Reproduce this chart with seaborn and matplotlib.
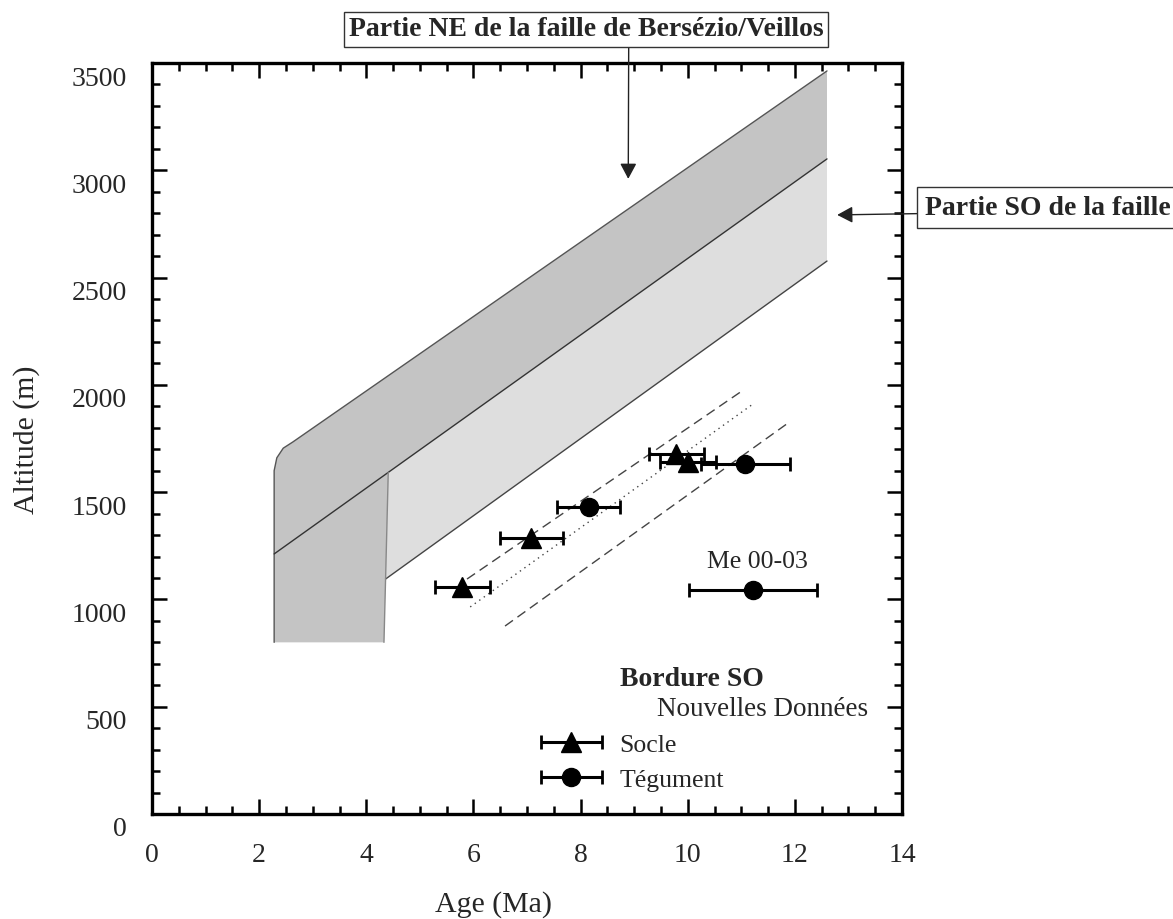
import numpy as np
import matplotlib
matplotlib.use("Agg")
import matplotlib.pyplot as plt
import seaborn as sns
from matplotlib.transforms import ScaledTranslation
from matplotlib.legend_handler import HandlerErrorbar
from matplotlib.ticker import MultipleLocator

# ---------------- data ----------------
socle_age = [5.79, 7.08, 9.79, 10.00]
socle_alt = [1060, 1285, 1678, 1642]
socle_err = [0.51, 0.59, 0.51, 0.52]

tegu_age = [8.15, 11.07, 11.22]
tegu_alt = [1429, 1631, 1045]
tegu_err = [0.59, 0.83, 1.19]

me_label = "Me 00-03"

# regression line and envelope
fit_age = [5.94, 11.22]
fit_alt = [965, 1911]
upper_age = [5.88, 11.01]
upper_alt = [1095, 1971]
lower_age = [6.59, 11.85]
lower_alt = [876, 1818]

# fault bands (Age, Altitude)
band_outer_x = [2.28, 2.28, 2.33, 2.45, 2.63, 12.6]
band_outer_y = [800, 1600, 1660, 1705, 1734, 3463]
band_mid_x = [2.28, 4.41, 12.6]
band_mid_y = [1212, 1591, 3053]
band_low_x = [4.36, 12.6]
band_low_y = [1095, 2577]
strip_edge_x = [4.41, 4.36, 4.33]
strip_edge_y = [1591, 1095, 800]

ne_arrow = (8.89, 2960)
so_arrow = (12.79, 2792)
title_ne = "Partie NE de la faille de Bersézio/Veillos"
title_so = "Partie SO de la faille"

x_ticks = [0, 2, 4, 6, 8, 10, 12, 14]
y_ticks = [0, 500, 1000, 1500, 2000, 2500, 3000, 3500]

# ---------------- style ----------------
sns.set_style("ticks")
plt.rcParams['font.family'] = ['Liberation Serif', 'DejaVu Serif']

fig = plt.figure(figsize=(11.73, 9.2), dpi=100)
ax = fig.add_axes([152/1173, 105/920, 750/1173, 751/920])

dark = '#c4c4c4'
light = '#dedede'

# dark band polygon: outer edge, top line, down right side, mid line back, strip
dx = band_outer_x + [band_mid_x[2], band_mid_x[1]] + [strip_edge_x[2]]
dy = band_outer_y + [band_mid_y[2], band_mid_y[1]] + [strip_edge_y[2]]
ax.fill(dx, dy, color=dark, lw=0, zorder=1)
# light band polygon
lx = [band_mid_x[1], band_mid_x[2], band_low_x[1], band_low_x[0]]
ly = [band_mid_y[1], band_mid_y[2], band_low_y[1], band_low_y[0]]
ax.fill(lx, ly, color=light, lw=0, zorder=1)

ax.plot(band_outer_x, band_outer_y, color='#555555', lw=1.0, zorder=2)
ax.plot(band_mid_x[::2], band_mid_y[::2], color='#333333', lw=1.0, zorder=2)
ax.plot(band_low_x, band_low_y, color='#444444', lw=1.0, zorder=2)
ax.plot(strip_edge_x, strip_edge_y, color='#888888', lw=1.0, zorder=2)

# regression lines via seaborn
sns.lineplot(x=upper_age, y=upper_alt, ax=ax, color='#444444', lw=1.0,
             linestyle=(0, (7, 4)), zorder=3)
sns.lineplot(x=lower_age, y=lower_alt, ax=ax, color='#444444', lw=1.0,
             linestyle=(0, (7, 4)), zorder=3)
sns.lineplot(x=fit_age, y=fit_alt, ax=ax, color='#444444', lw=1.0,
             linestyle=(0, (1, 3)), zorder=3)

# data points
eb_s = ax.errorbar(socle_age, socle_alt, xerr=socle_err, fmt='^', color='black',
                   ms=15, elinewidth=2.2, capsize=5, capthick=2.0, zorder=5)
eb_t = ax.errorbar(tegu_age, tegu_alt, xerr=tegu_err, fmt='o', color='black',
                   ms=13, elinewidth=2.2, capsize=5, capthick=2.0, zorder=5)

ax.annotate(me_label, xy=(tegu_age[2], tegu_alt[2]), xytext=(3, 21),
            textcoords='offset points', ha='center', va='center', fontsize=18.5)

# axes
ax.set_xlim(0, 14)
ax.set_ylim(0, 3500)
ax.set_xticks(x_ticks)
ax.set_yticks(y_ticks)
ax.xaxis.set_minor_locator(MultipleLocator(0.5))
ax.yaxis.set_minor_locator(MultipleLocator(100))
ax.tick_params(which='both', direction='in', top=True, right=True, color='black')
ax.tick_params(which='major', length=11, width=1.8, labelsize=20)
ax.tick_params(which='minor', length=5.5, width=1.8)
ax.tick_params(axis='y', pad=18)
ax.tick_params(axis='x', pad=20)
for s in ax.spines.values():
    s.set_linewidth(2.4)
    s.set_color('black')
for lab in ax.get_yticklabels():
    lab.set_transform(lab.get_transform() + ScaledTranslation(0, -0.12, fig.dpi_scale_trans))

ax.set_xlabel("Age (Ma)", fontsize=21.5)
ax.set_ylabel("Altitude (m)", fontsize=21.5)
ax.xaxis.set_label_coords((493-152)/750, (815-891)/751)
ax.yaxis.set_label_coords((40-152)/750, 0.5)

# legend
ax.text((620-152)/750, (815-680)/751, "Bordure SO", transform=ax.transAxes,
        fontsize=20, fontweight='bold', ha='left', va='center')
ax.text((657-152)/750, (815-710)/751, "Nouvelles Données", transform=ax.transAxes,
        fontsize=19.5, ha='left', va='center')
ax.legend([eb_s, eb_t], ["Socle", "Tégument"], loc='center left',
          bbox_to_anchor=((540-152)/750, (815-763)/751), frameon=False,
          fontsize=18.5, borderpad=0, borderaxespad=0, handlelength=2.45,
          handletextpad=0.65, labelspacing=0.43,
          handler_map={type(eb_s): HandlerErrorbar(xerr_size=1.2)})

# annotations
ax.annotate(title_ne, xy=ne_arrow, xycoords='data', xytext=(586, 920-30),
            textcoords='figure pixels', ha='center', va='center', fontsize=20,
            fontweight='bold',
            bbox=dict(boxstyle='square,pad=0.18', fc='white', ec='#333333', lw=1),
            arrowprops=dict(arrowstyle='-|>,head_length=0.47,head_width=0.25',
                            color='#222222', lw=1, relpos=(0.59, 0),
                            shrinkA=0, shrinkB=0, mutation_scale=20),
            annotation_clip=False, zorder=6)
ax.annotate(title_so, xy=so_arrow, xycoords='data', xytext=(925, 920-208.5),
            textcoords='figure pixels', ha='left', va='center', fontsize=20,
            fontweight='bold',
            bbox=dict(boxstyle='square,pad=0.28', fc='white', ec='#333333', lw=1),
            arrowprops=dict(arrowstyle='-|>,head_length=0.47,head_width=0.25',
                            color='#222222', lw=1, relpos=(0, 0.26),
                            shrinkA=0, shrinkB=0, mutation_scale=20),
            annotation_clip=False, zorder=6)

fig.savefig("out.png", dpi=100)
